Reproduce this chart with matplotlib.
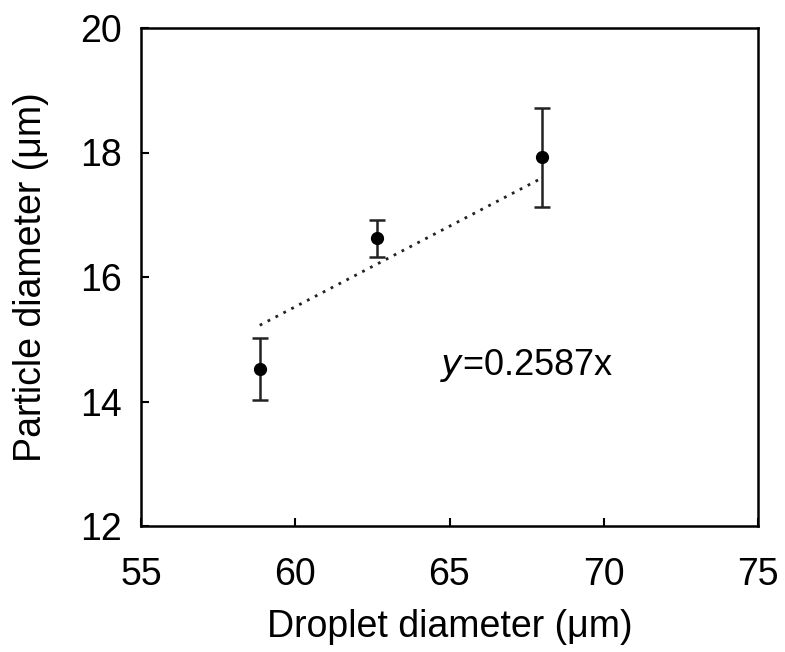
import matplotlib
matplotlib.use("Agg")
import matplotlib.pyplot as plt
import numpy as np

# data
droplet = [58.85, 62.65, 68.0]
particle = [14.52, 16.62, 17.92]
err = [0.5, 0.3, 0.8]
slope = 0.2587

plt.rcParams['font.family'] = ['Liberation Sans', 'DejaVu Sans']

fig = plt.figure(figsize=(7.85, 6.52), dpi=100)
ax = fig.add_axes([141/785, 1 - 526/652, (758-141)/785, (526-28)/652])

ax.errorbar(droplet, particle, yerr=err, fmt='o', color='black', ms=8.5,
            ecolor='#222222', elinewidth=1.8, capsize=6, capthick=1.8)

# trend line through origin, drawn over the data span
xs = np.array([droplet[0], droplet[-1]])
ax.plot(xs, slope*xs, linestyle=(0, (1, 2.2)), color='#222222', lw=2)

ax.text(64.7, 14.58, r'$\mathit{y}$=0.2587x', fontsize=26, va='center', ha='left')

ax.set_xlim(55, 75)
ax.set_ylim(12, 20)
ax.set_xticks([55, 60, 65, 70, 75])
ax.set_yticks([12, 14, 16, 18, 20])
ax.tick_params(direction='in', length=6, width=1.5, labelsize=27)
ax.tick_params(axis='x', pad=22)
ax.tick_params(axis='y', pad=14)
for s in ax.spines.values():
    s.set_linewidth(1.8)
ax.set_xlabel('Droplet diameter (μm)', fontsize=27, labelpad=12)
ax.set_ylabel('Particle diameter (μm)', fontsize=27, labelpad=22)

plt.savefig('out.png', dpi=100)
